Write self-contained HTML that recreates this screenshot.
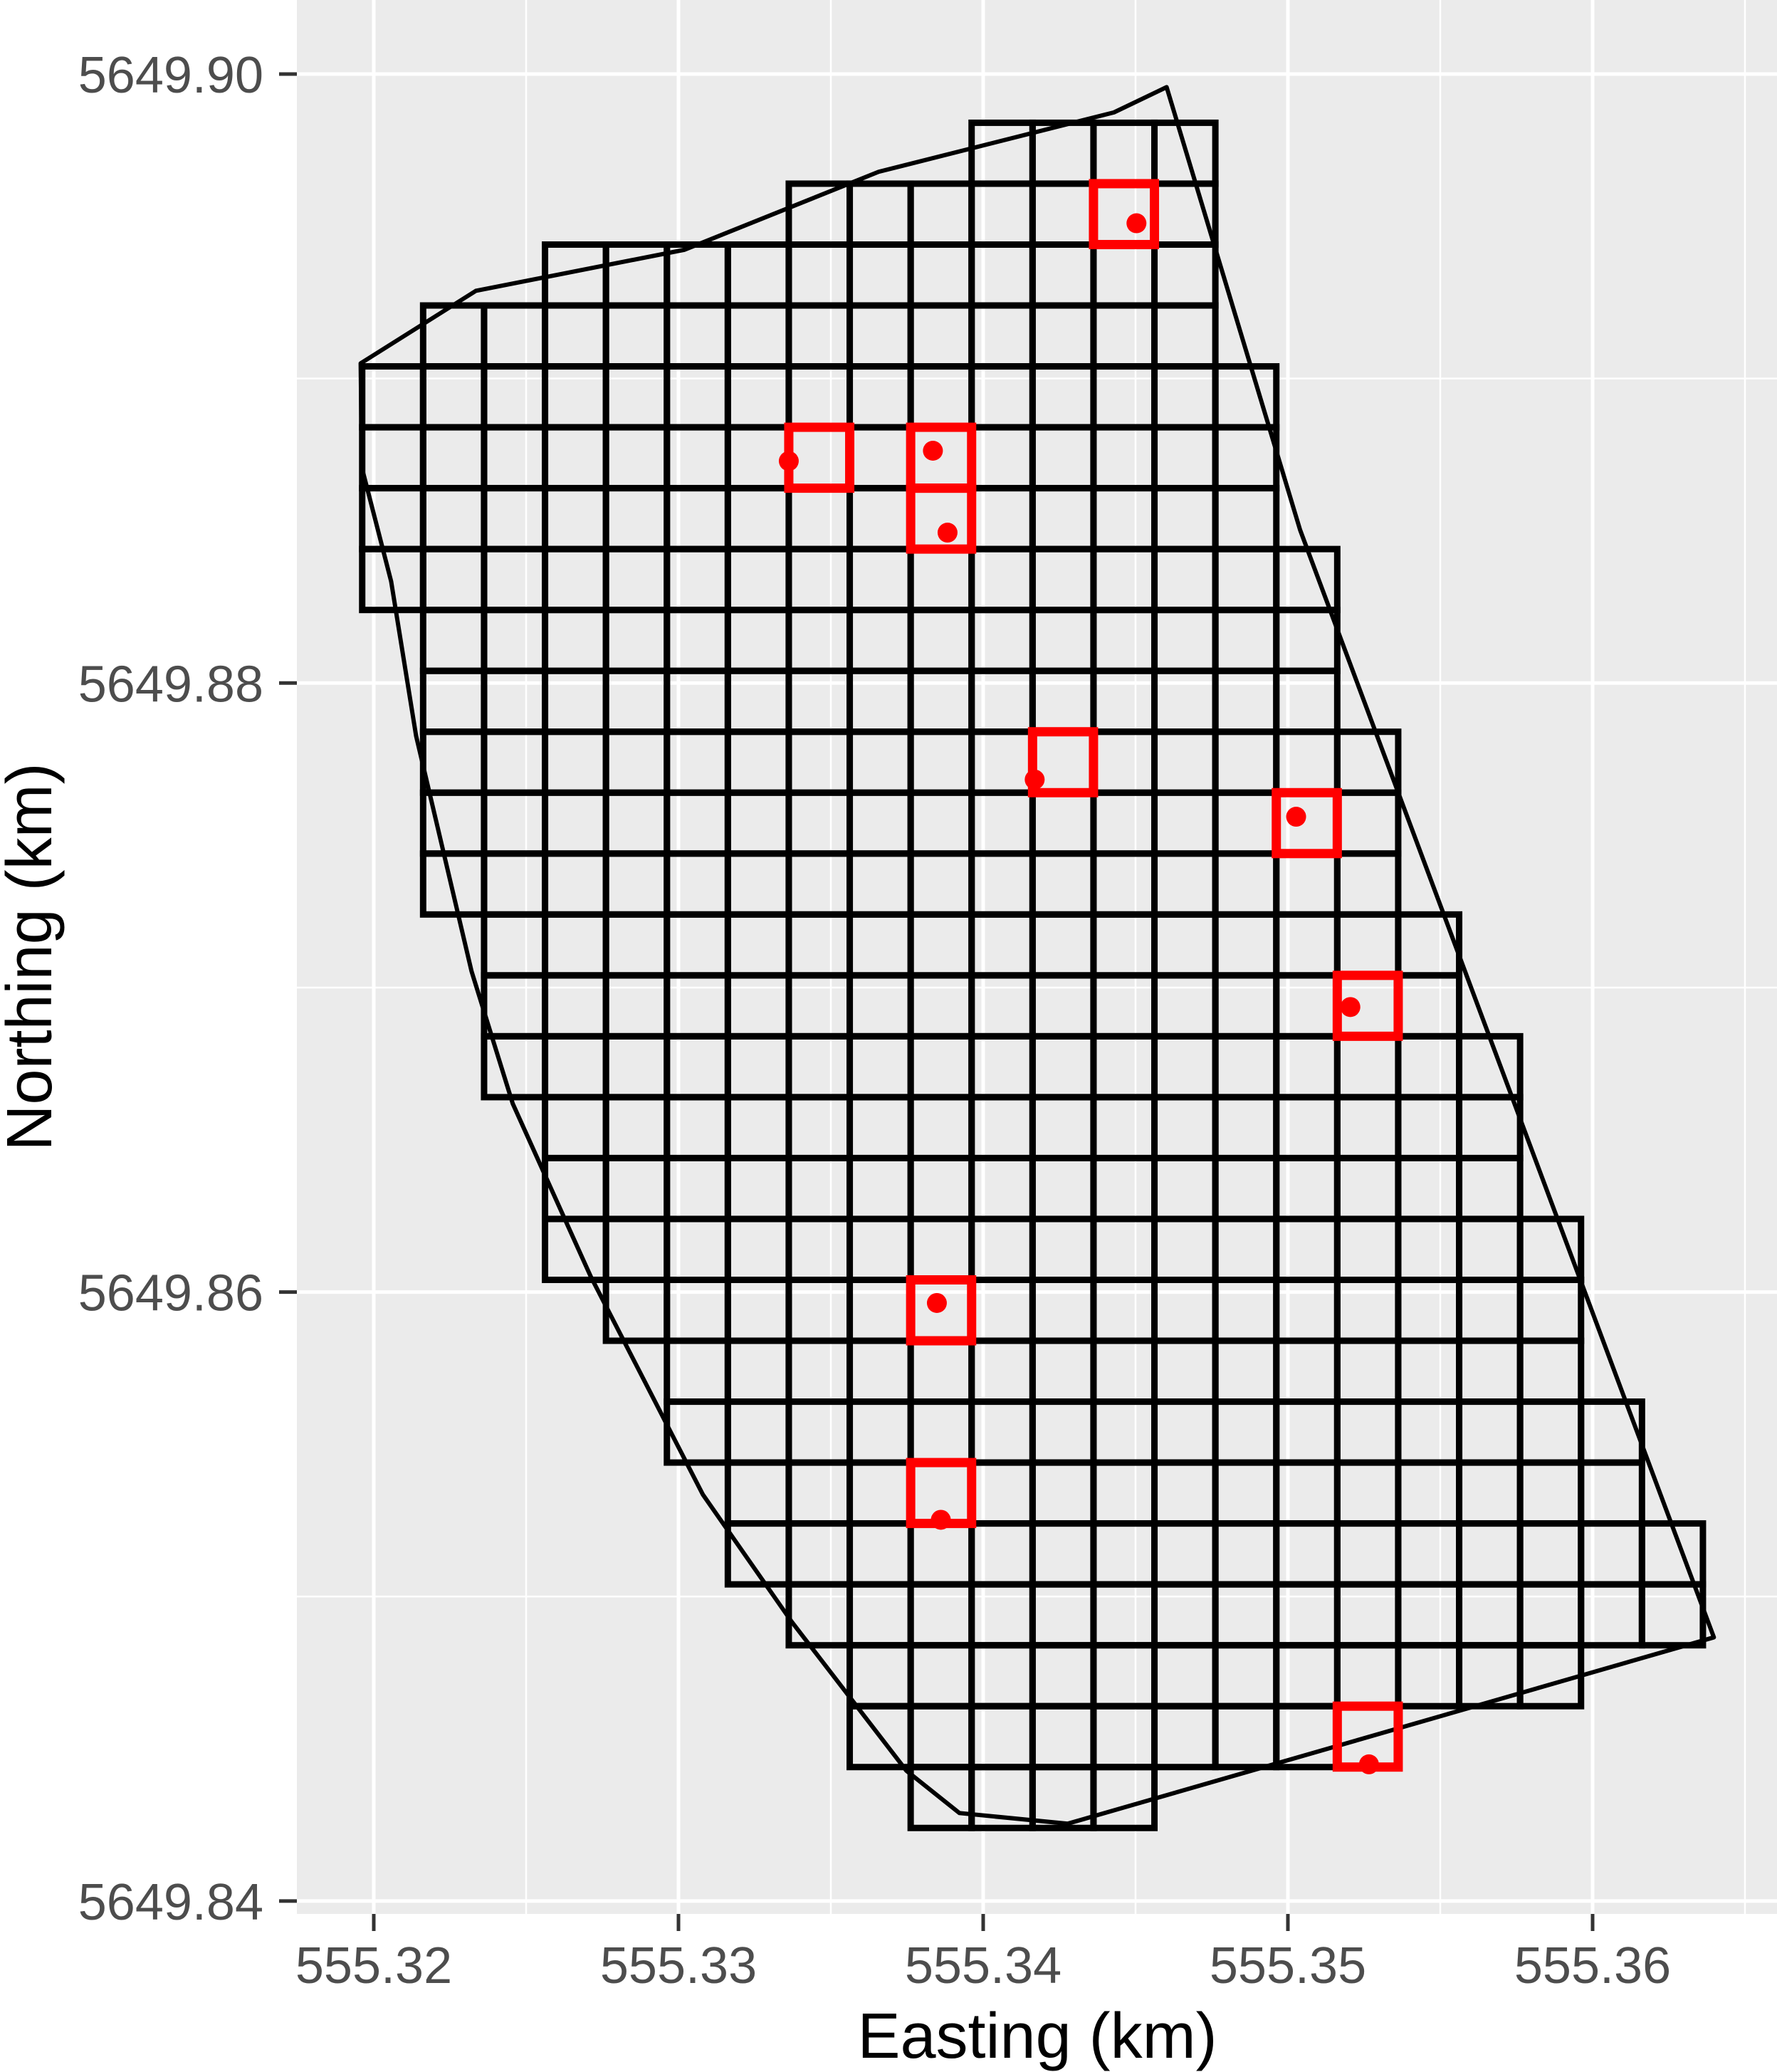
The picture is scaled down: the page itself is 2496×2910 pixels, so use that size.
<!DOCTYPE html>
<html><head><meta charset="utf-8"><style>
html,body{margin:0;padding:0;background:#fff;}
svg{display:block;}
text{font-family:"Liberation Sans",Arial,sans-serif;}
</style></head><body>
<svg id="chart" width="2496" height="2910" viewBox="0 0 2496 2910" xmlns="http://www.w3.org/2000/svg">
<rect x="417" y="0" width="2079" height="2688" fill="#ebebeb"/>
<g id="grid"></g>
<g id="cells"></g>
<g id="poly"></g>
<g id="sel"></g>
<g id="axes"></g>
<text x="1457" y="2890" font-size="90" text-anchor="middle" fill="#000">Easting (km)</text>
<text x="72" y="1344" font-size="90" text-anchor="middle" fill="#000" transform="rotate(-90 72 1344)">Northing (km)</text>
</svg>
<script>
const xTicks=[555.32,555.33,555.34,555.35,555.36];
const yTicks=[5649.84,5649.86,5649.88,5649.90];
const xTickLabels=["555.32","555.33","555.34","555.35","555.36"];
const yTickLabels=["5649.84","5649.86","5649.88","5649.90"];
const cellSize=0.002;
const gridX0=555.31962;
const gridYTop=5649.8984;
// per row (from top): first column index (inclusive), last (exclusive)
const rowStart=[10,7,3,1,0,0,0,0,1,1,1,1,1,2,2,2,3,3,3,4,5,5,6,6,7,8,8,9];
const rowEnd=[14,14,14,14,15,15,15,16,16,16,17,17,17,18,18,19,19,19,20,20,20,21,21,22,22,20,17,13];
const selCol=[12,7,9,9,11,15,16,9,9,16];
const selRow=[1,5,5,6,10,11,14,19,22,26];
const ptE=[555.34503,555.33362,555.33835,555.33883,555.34169,555.35027,555.35205,555.33848,555.33861,555.35266];
const ptN=[5649.89510,5649.88729,5649.88763,5649.88494,5649.87683,5649.87561,5649.86936,5649.85964,5649.85252,5649.84449];
const polyE=[555.31957,555.32335,555.33020,555.33657,555.34429,555.34602,555.35040,555.36398,555.34277,555.33922,555.33748,555.33371,555.33080,555.32712,555.32456,555.32321,555.32139,555.32057,555.31961];
const polyN=[5649.89050,5649.89288,5649.89423,5649.89679,5649.89874,5649.89957,5649.88503,5649.84866,5649.84254,5649.84289,5649.84428,5649.84918,5649.85335,5649.86051,5649.86619,5649.87053,5649.87826,5649.88334,5649.88707];

const NS="http://www.w3.org/2000/svg";
const X=v=>525+(v-555.32)*42800;
const Y=v=>104+(5649.90-v)*42765;
function mk(tag,attrs,parent){const e=document.createElementNS(NS,tag);for(const k in attrs)e.setAttribute(k,attrs[k]);parent.appendChild(e);return e;}
const grid=document.getElementById('grid');
for(let i=-1;i<=5;i++){const v=555.325+i*0.01;const x=X(v);if(x>417&&x<2496){const l=mk('line',{x1:x,x2:x,y1:0,y2:2688,stroke:'#fff','stroke-width':2.5},grid);

}}
for(let i=-1;i<=3;i++){const v=5649.85+i*0.02;const y=Y(v);if(y>0&&y<2688){const l=mk('line',{x1:417,x2:2496,y1:y,y2:y,stroke:'#fff','stroke-width':2.5},grid);

}}
xTicks.forEach(v=>{const l=mk('line',{x1:X(v),x2:X(v),y1:0,y2:2688,stroke:'#fff','stroke-width':5},grid);

});
yTicks.forEach(v=>{const l=mk('line',{x1:417,x2:2496,y1:Y(v),y2:Y(v),stroke:'#fff','stroke-width':5},grid);

});
const cells=document.getElementById('cells');
rowStart.forEach((s,r)=>{for(let c=s;c<rowEnd[r];c++){const x0=X(gridX0+c*cellSize),x1=X(gridX0+(c+1)*cellSize);const y0=Y(gridYTop-r*cellSize),y1=Y(gridYTop-(r+1)*cellSize);
const e=mk('rect',{x:x0,y:y0,width:x1-x0,height:y1-y0,fill:'none',stroke:'#000','stroke-width':9},cells);

}});
const pts=polyE.map((e,i)=>X(e)+','+Y(polyN[i])).join(' ');
const pg=mk('polygon',{points:pts,fill:'none',stroke:'#000','stroke-width':6,'stroke-linejoin':'round'},document.getElementById('poly'));


const sel=document.getElementById('sel');
selCol.forEach((c,i)=>{const r=selRow[i];const x0=X(gridX0+c*cellSize),x1=X(gridX0+(c+1)*cellSize);const y0=Y(gridYTop-r*cellSize),y1=Y(gridYTop-(r+1)*cellSize);
const e=mk('rect',{x:x0,y:y0,width:x1-x0,height:y1-y0,fill:'none',stroke:'#ff0000','stroke-width':13},sel);

});
ptE.forEach((e,i)=>{const c=mk('circle',{cx:X(e),cy:Y(ptN[i]),r:14,fill:'#ff0000'},sel);

});
const axes=document.getElementById('axes');
xTicks.forEach((v,i)=>{const t=mk('line',{x1:X(v),x2:X(v),y1:2688,y2:2712,stroke:'#333','stroke-width':5},axes);


const tx=mk('text',{x:X(v),y:2785,'font-size':72,'text-anchor':'middle',fill:'#4d4d4d'},axes);tx.textContent=xTickLabels[i];

});
yTicks.forEach((v,i)=>{const t=mk('line',{x1:392,x2:417,y1:Y(v),y2:Y(v),stroke:'#333','stroke-width':5},axes);


const tx=mk('text',{x:370,y:Y(v)+26,'font-size':72,'text-anchor':'end',fill:'#4d4d4d'},axes);tx.textContent=yTickLabels[i];

});
</script>
</body></html>
